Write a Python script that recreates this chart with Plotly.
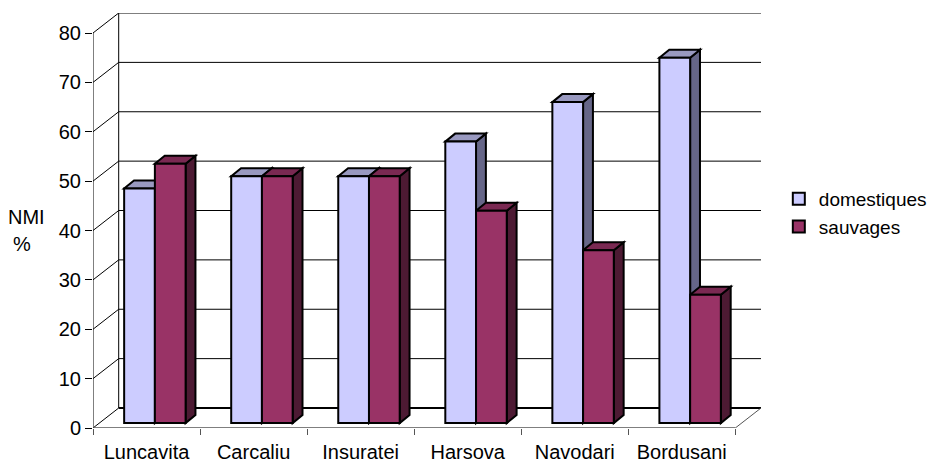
import plotly.graph_objects as go

# ---- data ----
categories = ["Luncavita", "Carcaliu", "Insuratei", "Harsova", "Navodari", "Bordusani"]
domestiques = [47.5, 50, 50, 57, 65, 74]
sauvages = [52.5, 50, 50, 43, 35, 26]
y_ticks = [0, 10, 20, 30, 40, 50, 60, 70, 80]

# ---- pseudo-3D geometry (data units) ----
n = len(categories)
wall_dx, wall_dy = 0.24, 4.05      # depth of floor / back wall
bar_shift_x, bar_base = 0.078, 1.0  # front face of bars sits a bit into the depth
bar_w = 0.287
bar_ddx, bar_ddy = 0.092, 1.62     # bar depth

FONT = "Liberation Sans, Arial, sans-serif"
dom_colors = dict(front="#CCCCFF", top="#9999C0", side="#666688")
sau_colors = dict(front="#993366", top="#7A2952", side="#4D1A33")

fig = go.Figure()

shapes = []
ymax = max(y_ticks)
# back wall gridlines & left wall diagonals
for v in y_ticks:
    shapes.append(dict(type="line", xref="x", yref="y", layer="below",
                       x0=wall_dx, x1=n + wall_dx, y0=v + wall_dy, y1=v + wall_dy,
                       line=dict(color="black", width=2 if v == 0 else 1)))
    shapes.append(dict(type="line", xref="x", yref="y", layer="below",
                       x0=0, x1=wall_dx, y0=v, y1=v + wall_dy,
                       line=dict(color="black", width=1)))
# back wall left edge
shapes.append(dict(type="line", xref="x", yref="y", layer="below",
                   x0=wall_dx, x1=wall_dx, y0=wall_dy, y1=ymax + wall_dy,
                   line=dict(color="black", width=1)))
# front y axis
shapes.append(dict(type="line", xref="x", yref="y", layer="below",
                   x0=0, x1=0, y0=0, y1=ymax, line=dict(color="black", width=1)))
# floor front edge and right edge
shapes.append(dict(type="line", xref="x", yref="y", layer="below",
                   x0=0, x1=n, y0=0, y1=0, line=dict(color="#555555", width=1.5)))
shapes.append(dict(type="line", xref="x", yref="y", layer="below",
                   x0=n, x1=n + wall_dx, y0=0, y1=wall_dy, line=dict(color="#555555", width=1)))


def faces(xl, v, cols):
    xr = xl + bar_w
    yb, yt = bar_base, bar_base + v
    top = f"M {xl},{yt} L {xr},{yt} L {xr + bar_ddx},{yt + bar_ddy} L {xl + bar_ddx},{yt + bar_ddy} Z"
    side = f"M {xr},{yb} L {xr},{yt} L {xr + bar_ddx},{yt + bar_ddy} L {xr + bar_ddx},{yb + bar_ddy} Z"
    return [
        dict(type="path", xref="x", yref="y", layer="below", path=side,
             fillcolor=cols["side"], line=dict(color="black", width=2)),
        dict(type="path", xref="x", yref="y", layer="below", path=top,
             fillcolor=cols["top"], line=dict(color="black", width=2)),
    ]


xc = [i + 0.5 + bar_shift_x for i in range(n)]
for i in range(n):
    shapes += faces(xc[i] - bar_w, domestiques[i], dom_colors)
    shapes += faces(xc[i], sauvages[i], sau_colors)

fig.add_trace(go.Bar(x=xc, y=domestiques, base=bar_base, width=bar_w, offset=-bar_w,
                     name="domestiques",
                     marker=dict(color=dom_colors["front"], line=dict(color="black", width=2))))
fig.add_trace(go.Bar(x=xc, y=sauvages, base=bar_base, width=bar_w, offset=0,
                     name="sauvages",
                     marker=dict(color=sau_colors["front"], line=dict(color="black", width=2))))

fig.update_layout(
    template="none",
    width=944, height=464, autosize=False,
    margin=dict(l=93, r=176, t=13, b=36, pad=0),
    paper_bgcolor="white", plot_bgcolor="white",
    font=dict(family=FONT, size=20, color="black"),
    barmode="overlay",
    shapes=shapes,
    showlegend=True,
    legend=dict(x=(786 - 93) / 675, y=(428 - 213) / 415, xanchor="left", yanchor="middle",
                font=dict(size=19), bgcolor="rgba(0,0,0,0)", borderwidth=0,
                tracegroupgap=0, itemsizing="constant"),
    xaxis=dict(range=[0, n + wall_dx], showgrid=False, zeroline=False, showline=False,
               automargin=False,
               tickmode="array", tickvals=[i + 0.5 for i in range(n)], ticktext=categories,
               ticks="outside", ticklen=6, tickcolor="rgba(0,0,0,0)",
               minor=dict(tick0=0, dtick=1, ticks="outside", ticklen=6, tickcolor="#555555"),
               tickfont=dict(size=20)),
    yaxis=dict(range=[0, ymax + wall_dy], showgrid=False, zeroline=False, showline=False,
               automargin=False,
               tickmode="array", tickvals=y_ticks, ticks="outside", ticklen=7,
               tickcolor="black", tickfont=dict(size=20)),
    annotations=[
        dict(text="NMI", xref="paper", yref="paper", x=-0.1, y=(428 - 217) / 415,
             xanchor="center", yanchor="middle", showarrow=False, font=dict(size=20)),
        dict(text="%", xref="paper", yref="paper", x=-0.107, y=(428 - 244) / 415,
             xanchor="center", yanchor="middle", showarrow=False, font=dict(size=20)),
    ],
)

fig.write_html("out.html")
